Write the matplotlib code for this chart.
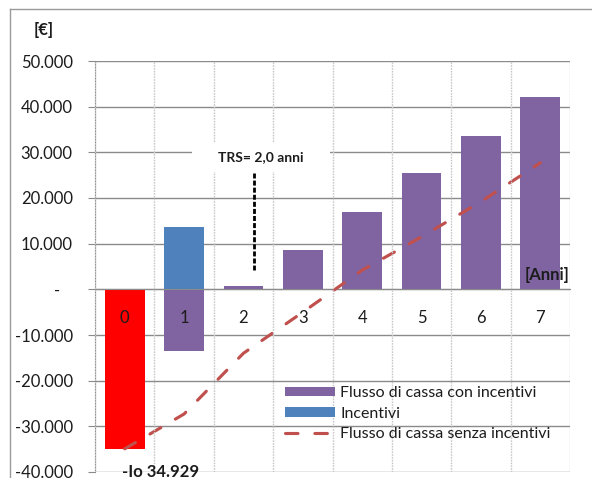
import matplotlib
matplotlib.use("Agg")
import matplotlib.pyplot as plt
from matplotlib.patches import Rectangle, Patch
from matplotlib.lines import Line2D

plt.rcParams['font.family'] = ['Lato', 'DejaVu Sans']

# --- data -------------------------------------------------------------
years = [0, 1, 2, 3, 4, 5, 6, 7]
year_labels = ["0", "1", "2", "3", "4", "5", "6", "7"]
cash_flow_with_incentives = [-34929, -13400, 700, 8600, 16900, 25500, 33600, 42200]
incentives = [0, 13600, 0, 0, 0, 0, 0, 0]
cash_flow_without_incentives = [-34929, -27300, -14000, -5000, 4200, 11500, 19200, 27700]
y_ticks = [-40000, -30000, -20000, -10000, 0, 10000, 20000, 30000, 40000, 50000]
y_tick_labels = ["-40.000", "-30.000", "-20.000", "-10.000", "-   ",
                 "10.000", "20.000", "30.000", "40.000", "50.000"]
series_names = ["Flusso di cassa con incentivi", "Incentivi",
                "Flusso di cassa senza incentivi"]
payback_text = "TRS= 2,0 anni"
investment_text = "-Io 34.929"
payback_x = 2.18
payback_span = (25500, 4200)

# --- style -------------------------------------------------------------
PURPLE = "#8064A2"
BLUE = "#4F81BD"
RED_BAR = "#FF0000"
RED_LINE = "#C0504D"
GRID_DARK = "#8a8a8a"
GRID_LIGHT = "#c8c8c8"
TEXT = "#1c1c1c"
FS = 12

W, H = 592, 478
fig = plt.figure(figsize=(W / 100, H / 100), dpi=100)
ax = fig.add_axes([95 / W, 6 / H, 475 / W, 411 / H])

bar_colors = [RED_BAR] + [PURPLE] * (len(years) - 1)
ax.bar(years, cash_flow_with_incentives, width=0.67, color=bar_colors, zorder=2)
ax.bar(years, incentives, width=0.67, color=BLUE, zorder=2)

ax.plot(years, cash_flow_without_incentives, color=RED_LINE, lw=2.25,
        dashes=(4.0, 5.4), dash_capstyle="round", zorder=4)

ax.set_xlim(-0.5, 7.5)
ax.set_ylim(-40000, 50000)

# axes lines
for s in ("top", "right"):
    ax.spines[s].set_visible(False)
ax.spines["left"].set_color(GRID_DARK)
ax.spines["bottom"].set_color(GRID_DARK)
ax.spines["bottom"].set_position(("data", 0))
ax.spines["bottom"].set_zorder(3)

ax.set_yticks(y_ticks)
ax.set_yticklabels(y_tick_labels)
ax.tick_params(axis="y", direction="out", length=5, color=GRID_DARK,
               labelsize=FS, labelcolor=TEXT, pad=11)
ax.yaxis.grid(True, color=GRID_DARK, lw=1)
ax.yaxis.set_zorder(0.5)

ax.set_xticks(years)
ax.set_xticklabels(year_labels)
ax.set_xticks([y - 0.5 for y in years] + [years[-1] + 0.5], minor=True)
ax.tick_params(axis="x", which="major", length=0, labelsize=FS,
               labelcolor=TEXT, pad=15)
ax.tick_params(axis="x", which="minor", length=0)
ax.xaxis.grid(True, which="minor", color=GRID_LIGHT, lw=1,
              linestyle=(0, (1.2, 0.8)))
ax.xaxis.grid(False, which="major")
ax.xaxis.set_zorder(5)

# payback time annotation
ax.add_patch(Rectangle((1.134, 25700), 2.324, 6350, facecolor="white",
                       edgecolor="none", zorder=6))
ax.text(2.296, 29000, payback_text, ha="center", va="center", fontsize=10,
        fontweight="bold", color=TEXT, zorder=7)
ax.plot([payback_x, payback_x], payback_span, color="black", lw=2,
        dashes=(1.8, 0.75), zorder=7)

# initial investment label
ax.annotate(investment_text, xy=(years[0], cash_flow_with_incentives[0]),
            xytext=(26, -17), textcoords="offset points", ha="center",
            va="center", fontsize=FS, fontweight="bold", color=TEXT,
            annotation_clip=False, zorder=7)

# unit labels
fig.text(44 / W, 1 - 30 / H, "[€]", ha="center", va="center", fontsize=FS,
         fontweight="bold", color=TEXT)
fig.text(569 / W, 1 - 275 / H, "[Anni]", ha="right", va="center",
         fontsize=FS, fontweight="bold", color=TEXT)

# legend
handles = [Patch(facecolor=PURPLE), Patch(facecolor=BLUE),
           Line2D([], [], color=RED_LINE, lw=2.25, dashes=(4.0, 5.4),
                  dash_capstyle="round")]
fig.legend(handles, series_names, loc="upper left",
           bbox_to_anchor=(285 / W, 1 - 386 / H), frameon=False,
           borderpad=0, borderaxespad=0, handlelength=3.1, handleheight=0.5,
           handletextpad=0.35, labelspacing=0.42, fontsize=11.5,
           labelcolor=TEXT)

# chart border
fig.add_artist(Line2D([9.5 / W, 9.5 / W], [0, 1 - 8.5 / H],
                      transform=fig.transFigure, color="#9a9a9a", lw=1))
fig.add_artist(Line2D([9.5 / W, 1], [1 - 8.5 / H, 1 - 8.5 / H],
                      transform=fig.transFigure, color="#9a9a9a", lw=1))

fig.savefig("out.png", dpi=100)
